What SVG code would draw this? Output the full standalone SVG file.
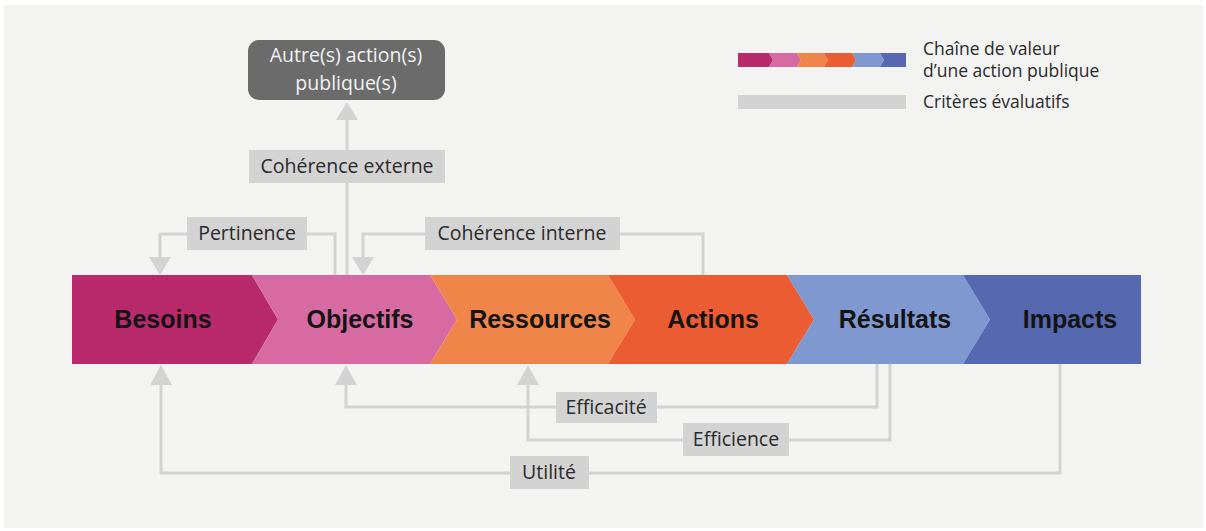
<svg xmlns="http://www.w3.org/2000/svg" width="1206" height="531" viewBox="0 0 1206 531">
<style>
.stage{font-family:"Liberation Sans",Arial,sans-serif;font-weight:bold;font-size:25px;fill:#141414;text-anchor:middle}
.lbl{font-family:"Open Sans","Liberation Sans",sans-serif;font-size:19.5px;fill:#2a2a2a;text-anchor:middle}
.leg{font-family:"Open Sans","Liberation Sans",sans-serif;font-size:17.5px;fill:#2a2a2a}
.box{fill:#d4d3d3}
.ln{fill:none;stroke:#d4d3d3;stroke-width:3}
.ah{fill:#d4d3d3}
</style>
<rect x="0" y="0" width="1206" height="531" fill="#ffffff"/>
<rect x="4" y="5" width="1199" height="523" fill="#f3f3f2"/>

<g id="connectors">
  <path class="ln" d="M347,275 V118"/>
  <polygon class="ah" points="347,102 336,120 358,120"/>
  <path class="ln" d="M335,275 V234 H160 V259"/>
  <polygon class="ah" points="160,275 149,257 171,257"/>
  <path class="ln" d="M703,275 V234 H363 V259"/>
  <polygon class="ah" points="363,275 352,257 374,257"/>
  <path class="ln" d="M877,364 V407 H346 V383"/>
  <polygon class="ah" points="346,365 335,385 357,385"/>
  <path class="ln" d="M890,364 V440 H528 V383"/>
  <polygon class="ah" points="528,365 517,385 539,385"/>
  <path class="ln" d="M1060,364 V473 H161 V383"/>
  <polygon class="ah" points="161,365 150,385 172,385"/>
</g>

<g id="label-coherence-externe"><rect class="box" x="249" y="150" width="196" height="33"/><text class="lbl" x="347" y="173">Cohérence externe</text></g>
<g id="label-pertinence"><rect class="box" x="187" y="217" width="120" height="33"/><text class="lbl" x="247" y="240">Pertinence</text></g>
<g id="label-coherence-interne"><rect class="box" x="425" y="217" width="195" height="33"/><text class="lbl" x="522" y="240">Cohérence interne</text></g>
<g id="label-efficacite"><rect class="box" x="556" y="392" width="101" height="31"/><text class="lbl" x="606" y="414">Efficacité</text></g>
<g id="label-efficience"><rect class="box" x="683" y="423" width="106" height="33"/><text class="lbl" x="736" y="446">Efficience</text></g>
<g id="label-utilite"><rect class="box" x="510" y="456" width="79" height="33"/><text class="lbl" x="549" y="479">Utilité</text></g>

<g id="node-autres">
  <rect x="248" y="40" width="197" height="60" rx="11" fill="#6b6b6b"/>
  <text x="346" y="62" style="font-family:'Open Sans','Liberation Sans',sans-serif;font-size:19.5px;fill:#f2f2f2;text-anchor:middle">Autre(s) action(s)</text>
  <text x="346" y="90" style="font-family:'Open Sans','Liberation Sans',sans-serif;font-size:19.5px;fill:#f2f2f2;text-anchor:middle">publique(s)</text>
</g>

<g id="node-besoins"><polygon fill="#b82a6b" points="72,275 252,275 278,319.5 252,364 72,364"/><text class="stage" x="163" y="328">Besoins</text></g>
<g id="node-objectifs"><polygon fill="#d86aa3" points="252,275 430,275 457,319.5 430,364 252,364 278,319.5"/><text class="stage" x="360" y="328">Objectifs</text></g>
<g id="node-ressources"><polygon fill="#ef8548" points="430,275 608,275 635,319.5 608,364 430,364 457,319.5"/><text class="stage" x="540" y="328">Ressources</text></g>
<g id="node-actions"><polygon fill="#eb5c33" points="608,275 787,275 814,319.5 787,364 608,364 635,319.5"/><text class="stage" x="713" y="328">Actions</text></g>
<g id="node-resultats"><polygon fill="#7f98cf" points="787,275 963,275 990,319.5 963,364 787,364 814,319.5"/><text class="stage" x="895" y="328">Résultats</text></g>
<g id="node-impacts"><polygon fill="#5568b0" points="963,275 1141,275 1141,364 963,364 990,319.5"/><text class="stage" x="1070" y="328">Impacts</text></g>

<g id="legend">
  <polygon fill="#b82a6b" points="738,53 769,53 773,60 769,67 738,67"/>
  <polygon fill="#d86aa3" points="769,53 797,53 801,60 797,67 769,67 773,60"/>
  <polygon fill="#ef8548" points="797,53 824,53 828,60 824,67 797,67 801,60"/>
  <polygon fill="#eb5c33" points="824,53 852,53 856,60 852,67 824,67 828,60"/>
  <polygon fill="#7f98cf" points="852,53 880,53 884,60 880,67 852,67 856,60"/>
  <polygon fill="#5568b0" points="880,53 906,53 906,67 880,67 884,60"/>
  <text class="leg" x="923" y="55">Chaîne de valeur</text>
  <text class="leg" x="923" y="77">d’une action publique</text>
  <rect class="box" x="738" y="95" width="168" height="14"/>
  <text class="leg" x="923" y="108">Critères évaluatifs</text>
</g>
</svg>
